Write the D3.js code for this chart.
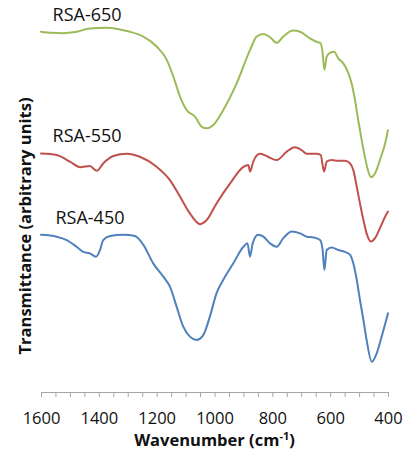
<!DOCTYPE html>
<html>
<head>
<meta charset="utf-8">
<script src="https://cdn.jsdelivr.net/npm/d3@7"></script>
<style>
  html, body { margin: 0; padding: 0; background: #fff; }
  svg { display: block; font-family: "Open Sans", "Noto Sans", sans-serif; }
</style>
</head>
<body>
<svg id="chart" width="406" height="462"></svg>
<script>
// FTIR spectra, wavenumber (cm-1) vs transmittance (arbitrary units, offset per sample)
const wn650 = [1600,1562,1523,1482,1431,1373,1327,1292,1246,1200,1165,1142,1119,1096,1067,1044,1027,1004,970,923,877,854,831,808,785,762,728,704,670,647,633,626,620,612,601,586,572,555,537,526,514,503,491,480,468,459,445,428,410,400];
const t650  = [97.1,96.8,96.7,97.0,98.0,98.2,97.7,97.1,95.8,93.1,89.5,84.9,79.5,75.9,74.1,71.4,71.0,71.9,75.9,83.2,92.2,95.8,96.5,95.6,94.1,95.8,97.4,97.1,95.3,94.4,94.0,91.3,86.8,90.4,91.4,91.7,89.9,88.6,85.9,83.2,78.6,73.2,67.8,63.3,59.3,57.8,58.8,62.4,66.9,70.5];

const wn550 = [1600,1546,1500,1465,1431,1407,1385,1350,1304,1258,1200,1154,1119,1085,1050,1027,993,946,900,883,877,866,843,820,785,750,722,699,681,647,633,621,612,595,572,549,531,520,508,497,485,474,459,445,428,410,400];
const t550  = [64.2,63.8,62.0,60.5,60.8,59.5,61.5,63.5,64.1,63.3,60.6,57.0,52.5,48.0,45.1,46.2,50.7,56.1,60.6,61.1,59.3,62.0,64.1,63.5,62.4,64.7,65.9,65.1,64.1,64.1,63.8,59.3,62.0,62.4,62.2,62.2,61.5,59.7,55.2,50.7,46.2,42.6,40.4,41.3,44.0,47.1,48.5];

const wn450 = [1600,1546,1511,1477,1454,1431,1410,1396,1385,1361,1315,1275,1246,1212,1177,1154,1131,1108,1085,1062,1039,1016,993,970,935,900,886,877,868,849,831,808,785,762,733,704,681,658,635,626,620,612,595,572,549,531,520,508,497,485,474,456,439,422,400];
const t450  = [42.2,41.7,40.8,39.0,37.6,37.2,36.3,38.1,40.8,41.9,42.2,41.9,39.5,34.5,30.9,28.2,22.8,17.4,14.7,13.8,15.1,20.1,26.4,30.0,34.5,39.0,39.9,36.3,39.9,42.2,41.7,39.9,39.0,41.3,43.1,42.6,41.7,41.5,40.8,38.1,32.7,38.1,38.8,38.1,37.6,36.8,34.5,30.0,24.6,19.2,13.8,7.9,10.2,14.7,21.0];

const seriesNames  = ["RSA-650", "RSA-550", "RSA-450"];
const seriesColors = ["#9bbb59", "#c0504d", "#4f81bd"];
const xTicks  = d3.range(1600, 399, -50);          // tick marks every 50 cm-1
const xLabels = [1600, 1400, 1200, 1000, 800, 600, 400];

const svg = d3.select("#chart");
const plot = { left: 41, right: 388, top: 21, bottom: 391 };

const x = d3.scaleLinear().domain([1600, 400]).range([plot.left, plot.right]);
const y = d3.scaleLinear().domain([0, 100]).range([plot.bottom, plot.top]);

const series = [
  { name: seriesNames[0], color: seriesColors[0], wn: wn650, t: t650 },
  { name: seriesNames[1], color: seriesColors[1], wn: wn550, t: t550 },
  { name: seriesNames[2], color: seriesColors[2], wn: wn450, t: t450 }
];

// bottom axis: tick marks every 50, labels every 200
const xAxis = d3.axisBottom(x)
  .tickValues(xTicks)
  .tickSize(5)
  .tickSizeOuter(0)
  .tickPadding(15)
  .tickFormat(d => xLabels.includes(d) ? d : "");

const gx = svg.append("g")
  .attr("transform", `translate(0,${plot.bottom + 1})`)
  .call(xAxis);
gx.select(".domain").attr("stroke", "#a6a6a6").attr("stroke-width", 1);
gx.selectAll(".tick line").attr("stroke", "#a6a6a6").attr("stroke-width", 1);
gx.selectAll(".tick text")
  .filter(d => !xLabels.includes(d))
  .remove();
gx.selectAll(".tick text")
  .attr("fill", "#111")
  .style("font-size", "16.5px")
  .style("font-family", "'Open Sans', sans-serif");

// spectra
const line = d3.line()
  .curve(d3.curveMonotoneX)
  .x(d => x(d[0]))
  .y(d => y(d[1]));

series.forEach(s => {
  const pts = s.wn.map((w, i) => [w, s.t[i]]);
  svg.append("path")
    .datum(pts)
    .attr("fill", "none")
    .attr("stroke", s.color)
    .attr("stroke-width", 2)
    .attr("stroke-linejoin", "round")
    .attr("stroke-linecap", "round")
    .attr("d", line);
});

// sample labels above each trace
const labelPos = [
  { wn: 1560, t: 97.1 },
  { wn: 1560, t: 64.2 },
  { wn: 1550, t: 42.2 }
];
series.forEach((s, i) => {
  svg.append("text")
    .attr("x", x(labelPos[i].wn))
    .attr("y", y(labelPos[i].t) - 11)
    .attr("font-size", "18px")
    .attr("fill", "#111")
    .text(s.name);
});

// axis titles
const xTitle = svg.append("text")
  .attr("x", (plot.left + plot.right) / 2)
  .attr("y", 446)
  .attr("text-anchor", "middle")
  .attr("font-size", "16.5px")
  .attr("font-weight", "bold")
  .attr("fill", "#111");
xTitle.append("tspan").text("Wavenumber (cm");
xTitle.append("tspan").attr("dy", -6).attr("font-size", "11px").text("-1");
xTitle.append("tspan").attr("dy", 6).text(")");

svg.append("text")
  .attr("transform", `translate(31,${(plot.top + plot.bottom) / 2 + 20}) rotate(-90)`)
  .attr("text-anchor", "middle")
  .attr("font-size", "16.5px")
  .attr("font-weight", "bold")
  .attr("fill", "#111")
  .text("Transmittance (arbitrary units)");
</script>
</body>
</html>
